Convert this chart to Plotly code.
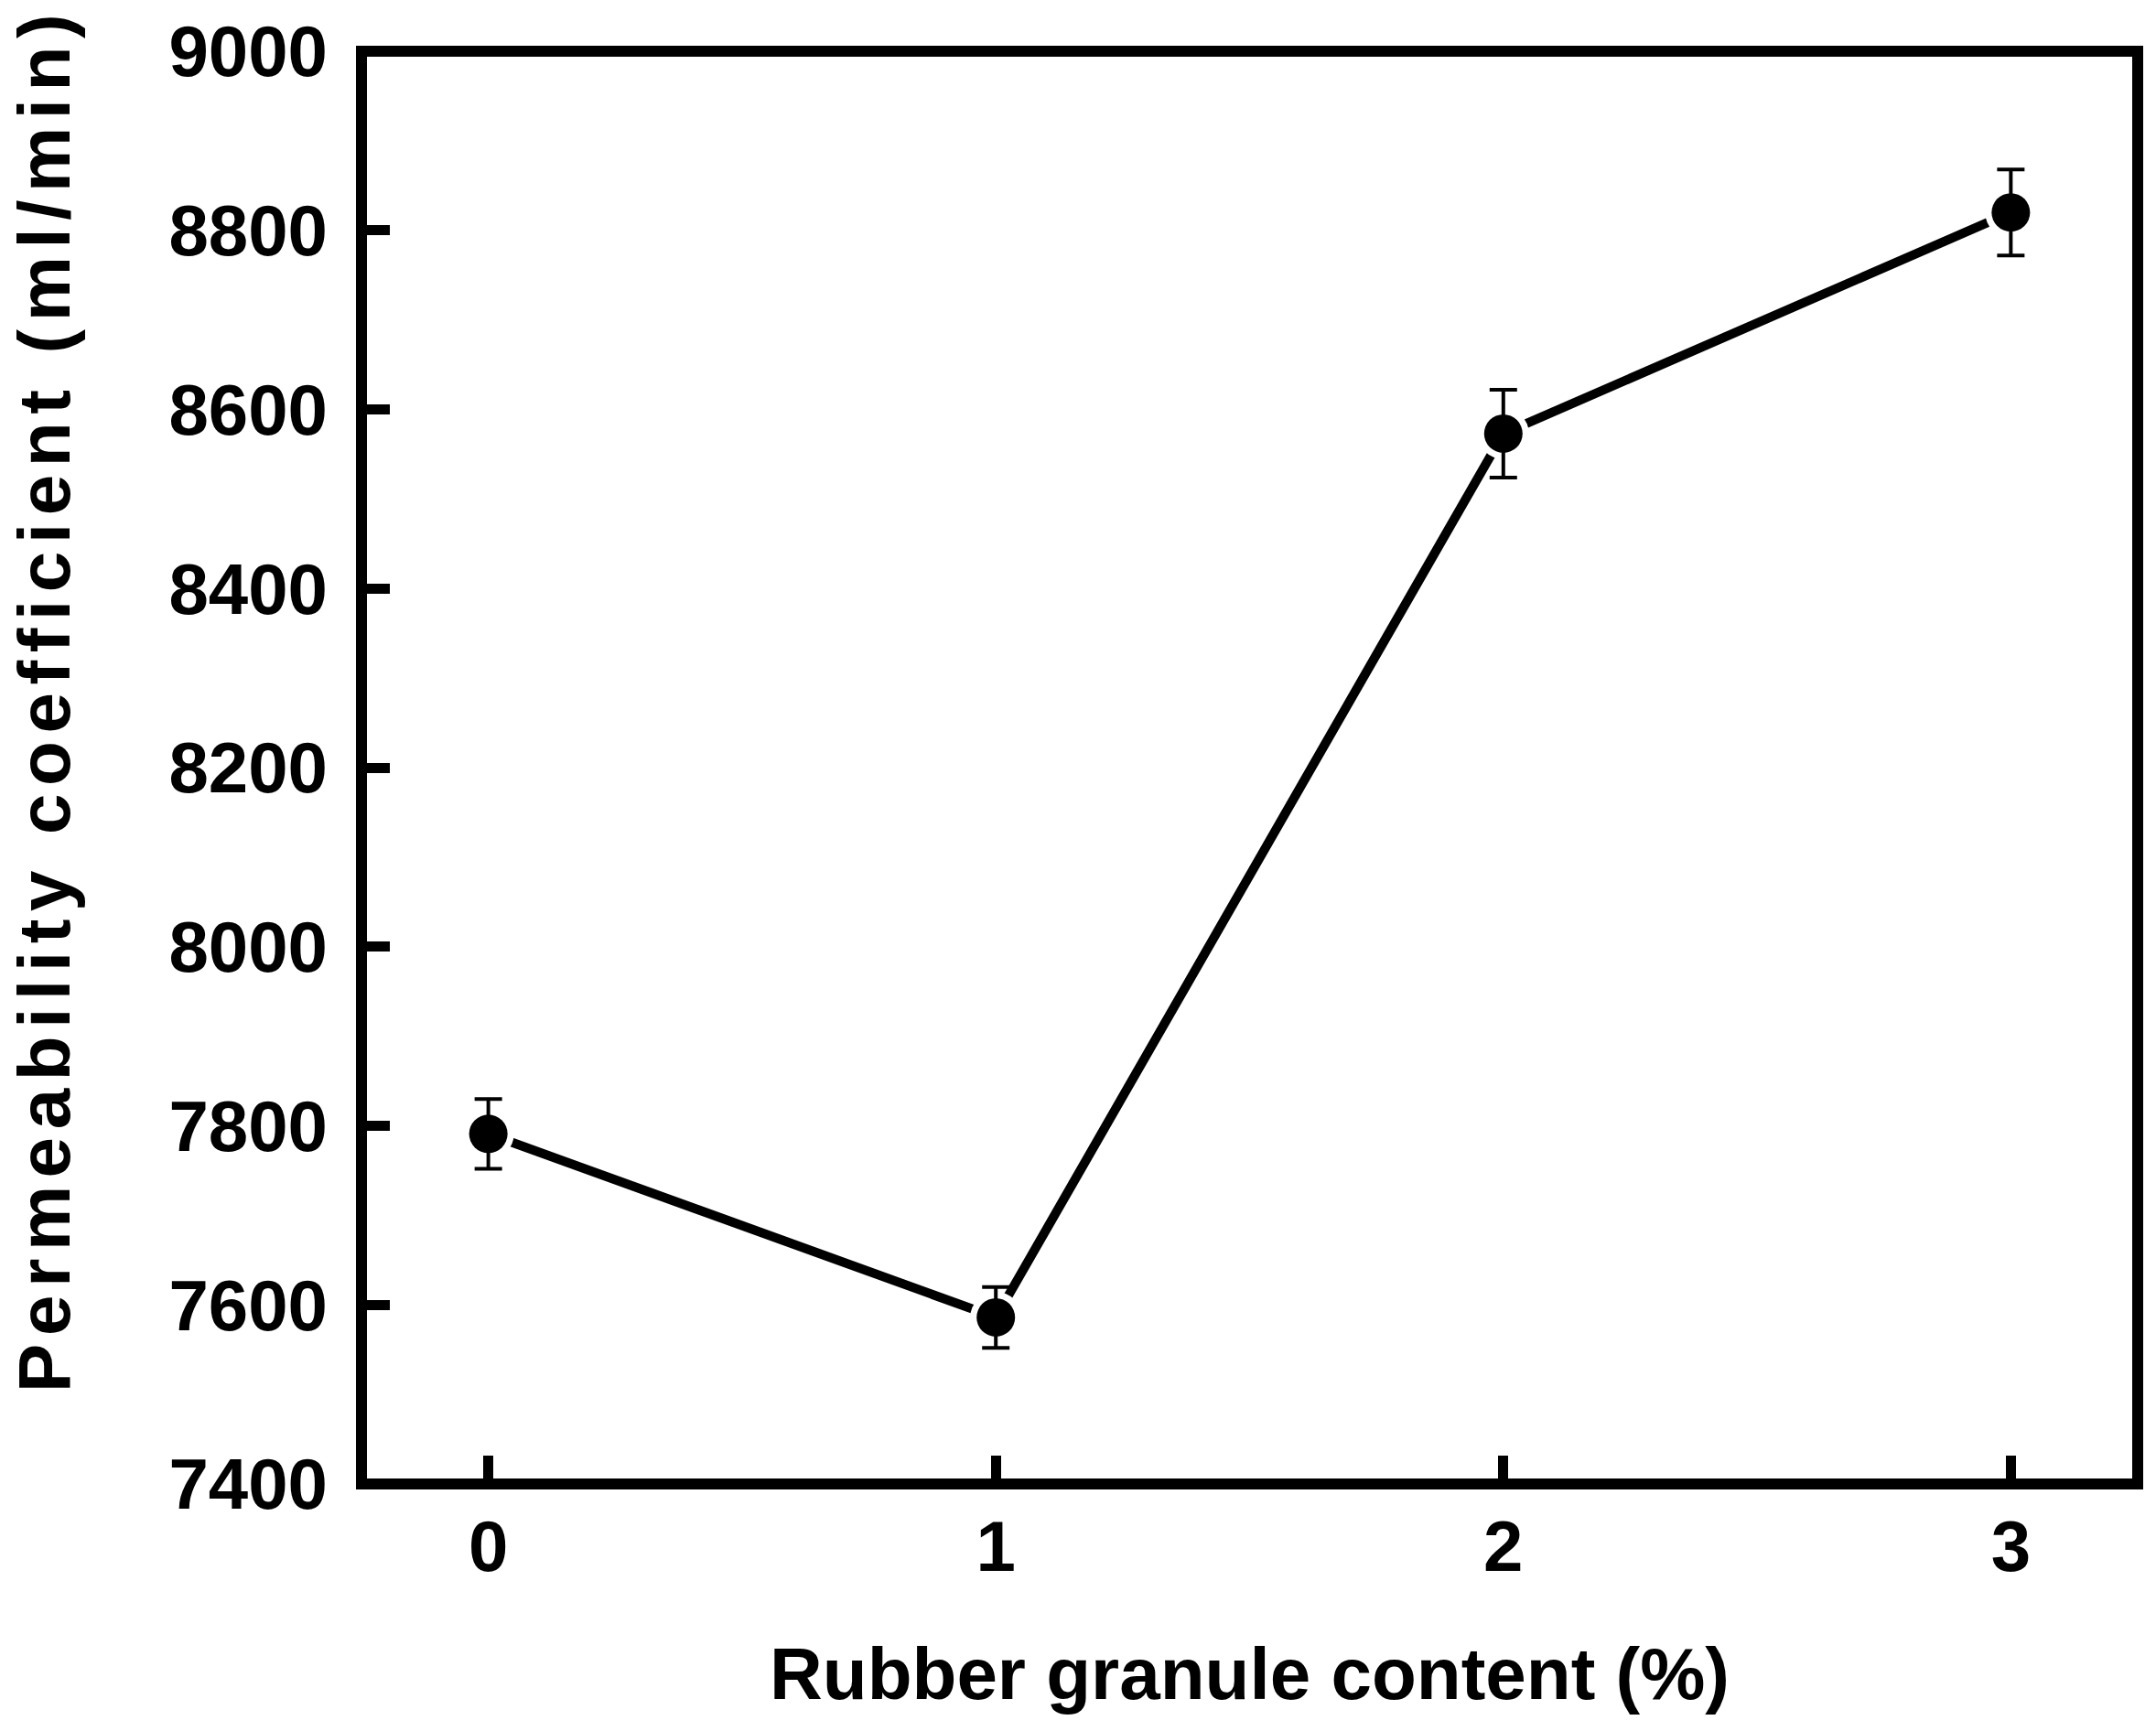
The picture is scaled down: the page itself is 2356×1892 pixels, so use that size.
import plotly.graph_objects as go

content = [0, 1, 2, 3]
permeability = [7791, 7586, 8573, 8820]
err = [39, 34, 49, 48]
x_ticks = [0, 1, 2, 3]
y_ticks = [7400, 7600, 7800, 8000, 8200, 8400, 8600, 8800, 9000]

FONT = "Liberation Sans, Arial, sans-serif"
W, H = 2356, 1892
L, R, T, B = 395, 20, 56, 270
PW, PH = W - L - R, H - T - B

fig = go.Figure()
fig.add_trace(go.Scatter(x=content, y=permeability, mode="lines",
                         line=dict(color="black", width=10), showlegend=False,
                         hoverinfo="skip"))
fig.add_trace(go.Scatter(x=content, y=permeability, mode="markers",
                         marker=dict(color="white", size=56, line=dict(width=0)),
                         showlegend=False, hoverinfo="skip"))
fig.add_trace(go.Scatter(x=content, y=permeability, mode="markers",
                         marker=dict(color="black", size=42, line=dict(width=0)),
                         error_y=dict(type="data", array=err, visible=True,
                                      color="black", thickness=4, width=15),
                         showlegend=False))

axis_common = dict(showline=False, ticks="inside", ticklen=31, tickwidth=11,
                   tickcolor="black", showgrid=False, zeroline=False, automargin=False,
                   tickfont=dict(family=FONT, size=78, color="black", weight="bold"))

fig.update_layout(
    width=W, height=H,
    margin=dict(l=L, r=R, t=T, b=B, autoexpand=False),
    plot_bgcolor="white", paper_bgcolor="white",
    xaxis=dict(range=[-0.25, 3.25], tickvals=x_ticks, ticklabelstandoff=16, **axis_common),
    yaxis=dict(range=[7400, 9000], tickvals=y_ticks, ticklabelstandoff=36, **axis_common),
    shapes=[dict(type="rect", xref="paper", yref="paper", x0=0, x1=1, y0=0, y1=1,
                 line=dict(color="black", width=12), layer="above")],
    annotations=[
        dict(text="Rubber granule content (%)", xref="paper", yref="paper",
             x=0.5, y=0, xanchor="center", yanchor="middle", yshift=-(1829 - (H - B)),
             showarrow=False,
             font=dict(family=FONT, size=80, color="black", weight="bold")),
        dict(text="Permeability coefficient (ml/min)", xref="paper", yref="paper",
             x=0, y=(H - B - 765) / PH, xanchor="center", yanchor="middle",
             xshift=48 - L, textangle=-90, showarrow=False,
             font=dict(family=FONT, size=80, color="black", weight="bold")),
    ],
)

post = """
(function(){
  document.documentElement.style.margin = '0';
  document.body.style.margin = '0';
  document.body.style.overflow = 'hidden';
  function fix(){
    document.querySelectorAll('.annotation-text').forEach(function(t){
      if (t.textContent.indexOf('Permeability') === 0) { t.style.letterSpacing = '8.6px'; }
    });
  }
  fix();
  var gd = document.getElementById('{plot_id}');
  if (gd && gd.on) { gd.on('plotly_afterplot', fix); }
  setTimeout(fix, 50);
})();
"""

fig.write_html("out.html", post_script=post, config={"displayModeBar": False})
